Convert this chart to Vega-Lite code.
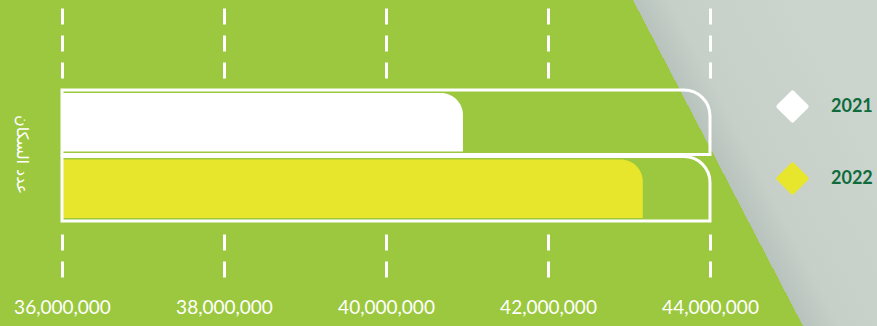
{
  "$schema": "https://vega.github.io/schema/vega-lite/v6.json",
  "width": 877,
  "height": 326,
  "autosize": {"type": "fit", "contains": "padding"},
  "padding": 0,
  "background": "#9BC83E",
  "config": {
    "view": {
      "stroke": null,
      "fill": {
        "gradient": "linear",
        "x1": 0, "y1": 0.6587, "x2": 1, "y2": 0.4649,
        "stops": [
          {"offset": 0, "color": "#9BC83E"},
          {"offset": 0.8187, "color": "#9BC83E"},
          {"offset": 0.8187, "color": "#B9C3BD"},
          {"offset": 0.86, "color": "#C6D0C9"},
          {"offset": 1, "color": "#CBD5CE"}
        ]
      }
    }
  },
  "data": {
    "values": [
      {"year": "2021", "population": 40950000},
      {"year": "2022", "population": 43170000}
    ]
  },
  "encoding": {
    "y": {
      "field": "year", "type": "nominal",
      "scale": {"domain": ["2021", "2022"], "range": [89, 222], "paddingInner": 0, "paddingOuter": 0},
      "axis": {
        "title": "عدد السكان", "labels": false, "ticks": false, "domain": false, "grid": false,
        "titleX": 21, "titleY": 154, "titleAngle": 90, "titleAlign": "center", "titleBaseline": "middle",
        "titleColor": "white", "titleFont": "DejaVu Sans", "titleFontSize": 16, "titleFontWeight": "normal"
      }
    }
  },
  "layer": [
    {
      "mark": {"type": "bar", "cornerRadiusTopRight": 22, "height": {"band": 0.88}},
      "encoding": {
        "x": {
          "field": "population", "type": "quantitative",
          "scale": {"domain": [35234600, 46061700], "nice": false, "zero": false},
          "axis": {
            "orient": "bottom", "offset": -49,
            "values": [36000000, 38000000, 40000000, 42000000, 44000000],
            "format": ",d", "grid": false, "domain": false,
            "ticks": true, "tickSize": -44, "tickDash": [16, 11], "tickColor": "white", "tickWidth": 3,
            "labelPadding": 65, "labelColor": "white", "labelFont": "Lato", "labelFontSize": 19,
            "labelFlush": false, "labelOverlap": false, "title": null
          }
        },
        "x2": {"datum": 36000000},
        "color": {
          "field": "year", "type": "nominal",
          "scale": {"domain": ["2021", "2022"], "range": ["#FFFFFF", "#E8E62C"]},
          "legend": {
            "orient": "none", "direction": "vertical", "legendX": 776, "legendY": 90, "title": null, "padding": 0,
            "symbolType": "diamond", "symbolSize": 800, "symbolStrokeWidth": 4, "symbolOpacity": 1,
            "rowPadding": 39, "labelOffset": 22,
            "labelFont": "Lato", "labelFontSize": 18, "labelFontWeight": "bold", "labelColor": "#0F6B3B",
            "encode": {"symbols": {"update": {"stroke": {"scale": "color", "field": "value"}, "strokeJoin": {"value": "round"}}}}
          }
        }
      }
    },
    {
      "mark": {"type": "bar", "filled": false, "fill": null, "stroke": "white", "strokeWidth": 3, "cornerRadiusTopRight": 26, "height": {"band": 0.97}},
      "encoding": {
        "x": {
          "datum": 44000000, "type": "quantitative",
          "axis": {
            "orient": "top", "offset": -8,
            "values": [36000000, 38000000, 40000000, 42000000, 44000000],
            "grid": false, "domain": false, "labels": false,
            "tickSize": -70, "tickDash": [16, 11], "tickColor": "white", "tickWidth": 3, "title": null
          }
        },
        "x2": {"datum": 36000000}
      }
    }
  ],
  "resolve": {"axis": {"x": "independent"}}
}
